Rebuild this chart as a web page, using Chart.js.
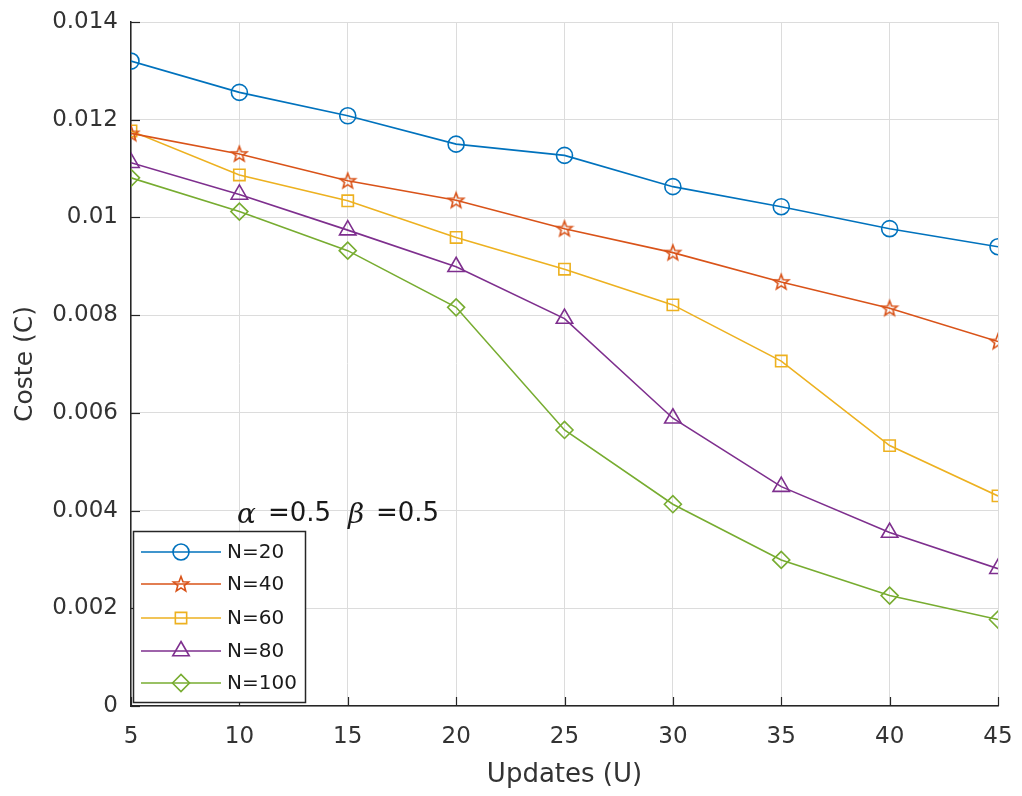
<!DOCTYPE html>
<html>
<head>
<meta charset="utf-8">
<script src="https://cdn.jsdelivr.net/npm/chart.js@4.4.0/dist/chart.umd.min.js"></script>
<style>
  html, body { margin: 0; padding: 0; background: #fff; }
</style>
</head>
<body>
<canvas id="graficoCoste" width="1022" height="796"></canvas>
<script>
// datos
const updates = [5, 10, 15, 20, 25, 30, 35, 40, 45];
const costeN20 = [0.01320, 0.01256, 0.01208, 0.01150, 0.01127, 0.01063, 0.01022, 0.00977, 0.00940];
const costeN40 = [0.01172, 0.01130, 0.01075, 0.01035, 0.00977, 0.00928, 0.00868, 0.00814, 0.00746];
const costeN60 = [0.01177, 0.01087, 0.01034, 0.00959, 0.00894, 0.00821, 0.00706, 0.00533, 0.00430];
const costeN80 = [0.01112, 0.01047, 0.00974, 0.00899, 0.00793, 0.00589, 0.00449, 0.00355, 0.00281];
const costeN100 = [0.01081, 0.01012, 0.00932, 0.00816, 0.00565, 0.00413, 0.00299, 0.00226, 0.00177];
const etiquetas = ['N=20', 'N=40', 'N=60', 'N=80', 'N=100'];
const yTicks = [0, 0.002, 0.004, 0.006, 0.008, 0.01, 0.012, 0.014];

const colores = ['#0072BD', '#D95319', '#EDB120', '#7E2F8E', '#77AC30'];
const fuente = "'DejaVu Sans', sans-serif";

// estrella de cinco puntas como marcador
function crearEstrella(color) {
  const c = document.createElement('canvas');
  c.width = 20; c.height = 20;
  const g = c.getContext('2d');
  g.strokeStyle = color;
  g.lineWidth = 1.6;
  g.beginPath();
  for (let i = 0; i < 10; i++) {
    const r = i % 2 === 0 ? 8 : 3.4;
    const a = -Math.PI / 2 + i * Math.PI / 5;
    const px = 10 + r * Math.cos(a);
    const py = 10.5 + r * Math.sin(a);
    if (i === 0) g.moveTo(px, py); else g.lineTo(px, py);
  }
  g.closePath();
  g.stroke();
  return c;
}
const estrella = crearEstrella(colores[1]);

function serie(label, data, color, estilo, radio) {
  return {
    label: label,
    data: data.map(function(v, i) { return { x: updates[i], y: v }; }),
    borderColor: color,
    backgroundColor: 'rgba(0,0,0,0)',
    pointBorderColor: color,
    pointBackgroundColor: 'rgba(0,0,0,0)',
    pointStyle: estilo,
    pointRadius: radio,
    pointBorderWidth: 1.6,
    borderWidth: 1.6,
    tension: 0,
    fill: false
  };
}

const datasets = [
  serie(etiquetas[0], costeN20, colores[0], 'circle', 8),
  serie(etiquetas[1], costeN40, colores[1], estrella, 9),
  serie(etiquetas[2], costeN60, colores[2], 'rect', 8),
  serie(etiquetas[3], costeN80, colores[3], 'triangle', 9.5),
  serie(etiquetas[4], costeN100, colores[4], 'rectRot', 8.5)
];

// marcas de eje hacia dentro, leyenda y anotacion
const extras = {
  id: 'extras',
  afterDatasetsDraw: function(chart) {
    const ctx = chart.ctx;
    const xs = chart.scales.x;
    const ys = chart.scales.y;
    const area = chart.chartArea;
    ctx.save();
    ctx.strokeStyle = '#262626';
    ctx.lineWidth = 1.2;
    updates.forEach(function(u) {
      const px = Math.round(xs.getPixelForValue(u)) + 0.5;
      ctx.beginPath();
      ctx.moveTo(px, area.bottom);
      ctx.lineTo(px, area.bottom - 9);
      ctx.stroke();
    });
    yTicks.forEach(function(t) {
      const py = Math.round(ys.getPixelForValue(t)) + 0.5;
      ctx.beginPath();
      ctx.moveTo(area.left, py);
      ctx.lineTo(area.left + 9, py);
      ctx.stroke();
    });

    // anotacion alpha / beta
    ctx.fillStyle = '#1a1a1a';
    ctx.textBaseline = 'middle';
    ctx.textAlign = 'left';
    ctx.font = "italic 28px 'DejaVu Serif', serif";
    ctx.fillText('\u03b1', 237, 516);
    ctx.fillText('\u03b2', 348, 516);
    ctx.font = "26px " + fuente;
    ctx.fillText('=0.5', 268, 514);
    ctx.fillText('=0.5', 376, 514);

    // leyenda
    const lx = 133, ly = 531, lw = 172, lh = 171;
    ctx.fillStyle = '#fff';
    ctx.fillRect(lx, ly, lw, lh);
    ctx.strokeStyle = '#262626';
    ctx.lineWidth = 1.5;
    ctx.strokeRect(lx + 0.5, ly + 0.5, lw, lh);
    const filas = [552, 584, 618, 651, 683];
    datasets.forEach(function(ds, i) {
      const y = filas[i];
      ctx.strokeStyle = ds.borderColor;
      ctx.lineWidth = 1.6;
      ctx.beginPath();
      ctx.moveTo(141, y);
      ctx.lineTo(221, y);
      ctx.stroke();
      if (typeof ds.pointStyle === 'string') {
        ctx.fillStyle = 'rgba(0,0,0,0)';
        Chart.helpers.drawPoint(ctx, {
          pointStyle: ds.pointStyle,
          radius: ds.pointRadius,
          borderWidth: ds.pointBorderWidth,
          rotation: 0
        }, 181, y);
      } else {
        ctx.drawImage(ds.pointStyle, 181 - 10, y - 10);
      }
      ctx.fillStyle = '#1a1a1a';
      ctx.font = '20px ' + fuente;
      ctx.textBaseline = 'middle';
      ctx.fillText(ds.label, 227, y + 1);
    });
    ctx.restore();
  }
};

function sinRelleno(scale) {
  scale.paddingLeft = 0;
  scale.paddingRight = 0;
  scale.paddingTop = 0;
  scale.paddingBottom = 0;
}

const ctx = document.getElementById('graficoCoste').getContext('2d');
const grafico = new Chart(ctx, {
  type: 'line',
  data: { datasets: datasets },
  options: {
    responsive: false,
    animation: false,
    events: [],
    layout: { padding: { top: 22, right: 24, left: 0, bottom: 0 } },
    plugins: {
      legend: { display: false },
      tooltip: { enabled: false }
    },
    scales: {
      x: {
        type: 'linear',
        min: 5,
        max: 45,
        afterFit: function(scale) { scale.height = 90; sinRelleno(scale); },
        ticks: {
          stepSize: 5,
          padding: 17,
          color: '#333',
          font: { family: fuente, size: 23 }
        },
        grid: { color: '#dcdcdc', lineWidth: 1, drawTicks: false },
        border: { display: true, color: '#262626', width: 1.5 },
        title: {
          display: true,
          text: 'Updates (U)',
          color: '#333',
          font: { family: fuente, size: 26 },
          padding: { top: 0, bottom: 5 }
        }
      },
      y: {
        min: 0,
        max: 0.014,
        afterFit: function(scale) { scale.width = 131; sinRelleno(scale); },
        afterBuildTicks: function(scale) {
          scale.ticks = yTicks.map(function(v) { return { value: v }; });
        },
        ticks: {
          padding: 13,
          color: '#333',
          font: { family: fuente, size: 23 },
          callback: function(v) { return String(+Number(v).toFixed(3)); }
        },
        grid: { color: '#dcdcdc', lineWidth: 1, drawTicks: false },
        border: { display: true, color: '#262626', width: 1.5 },
        title: {
          display: true,
          text: 'Coste (C)',
          color: '#333',
          font: { family: fuente, size: 25 },
          padding: { top: 10, bottom: 0 }
        }
      }
    }
  },
  plugins: [extras]
});
</script>
</body>
</html>
